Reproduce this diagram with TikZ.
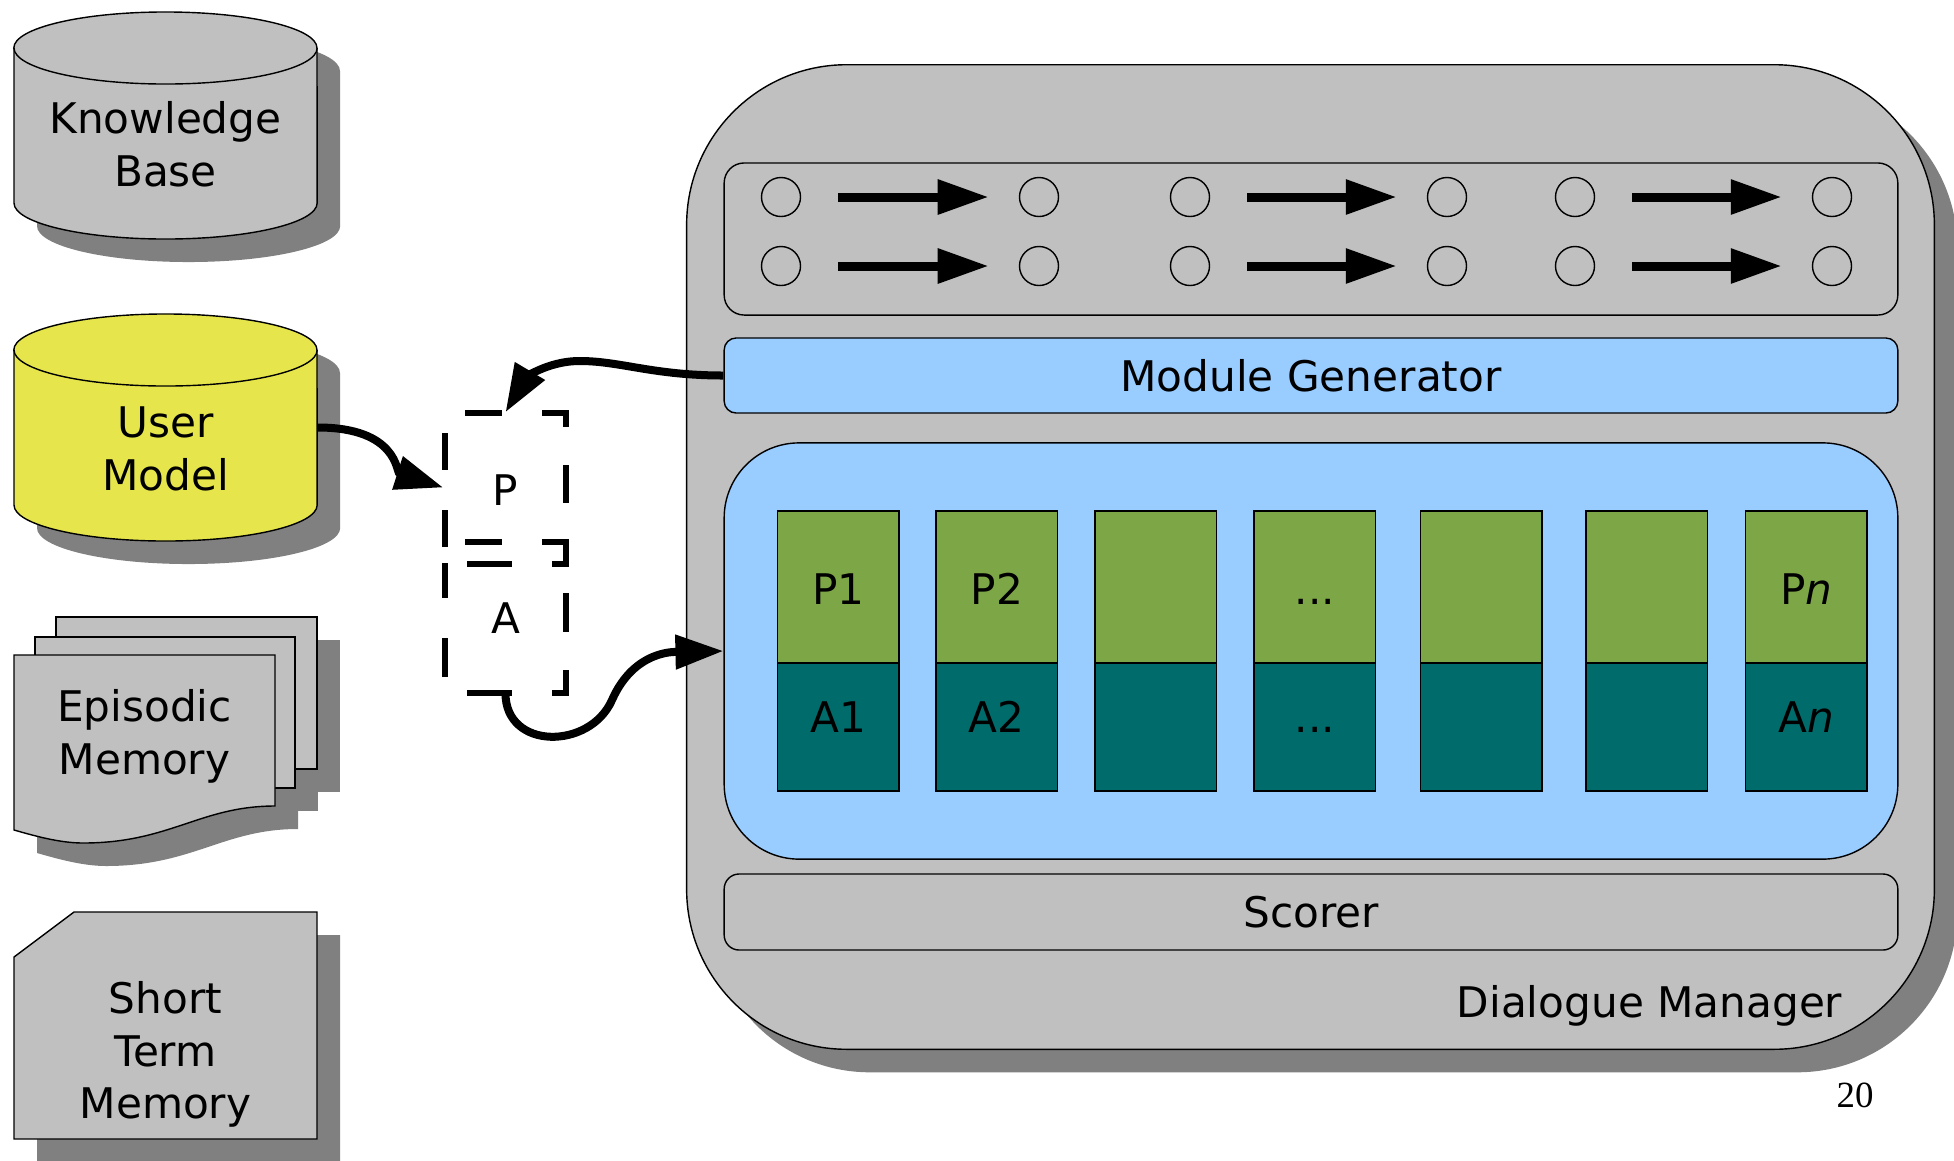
\documentclass[tikz,border=0pt]{standalone}
\usepackage{fontspec}
\setmainfont{DejaVu Sans}
\newfontfamily\serifnum{Liberation Serif}
\usetikzlibrary{arrows.meta,calc}
\definecolor{dmgray}{HTML}{C0C0C0}
\definecolor{shadowgray}{HTML}{808080}
\definecolor{umyellow}{HTML}{E6E64C}
\definecolor{paleblue}{HTML}{99CCFF}
\definecolor{pgreen}{HTML}{7DA647}
\definecolor{ateal}{HTML}{006B6B}
\begin{document}
\begin{tikzpicture}[x=0.01cm, y=-0.01cm,
  every node/.style={font=\fontsize{12}{15}\selectfont},
  thinline/.style={draw=black, line width=0.4pt},
  panel/.style={thinline, inner sep=0pt, minimum width=11.73cm},
  circ/.style={circle, draw=black, line width=0.4pt, minimum size=0.39cm, inner sep=0pt},
  flowarrow/.style={line width=0.09cm, -{Triangle[length=0.51cm,width=0.33cm]}, shorten <=0.37cm, shorten >=0.30cm},
  conn/.style={line width=0.08cm, -{Triangle[length=0.48cm,width=0.33cm]}},
  dashbox/.style={minimum width=1.21cm, minimum height=1.29cm, inner sep=0pt},
  dashseg/.style={line width=0.06cm},
  colbox/.style={thinline, minimum width=1.215cm, inner sep=0pt},
  hidden/.style={inner sep=0pt},
  lbl/.style={align=center, inner sep=0pt}
]
\path[use as bounding box] (0,0) rectangle (1954,1160);
\clip (0,0) rectangle (1954,1160);

% ---------- Knowledge Base cylinder ----------
\fill[shadowgray] (37,71) -- (37,226) arc[start angle=180,end angle=360,x radius=1.515cm,y radius=0.36cm] -- (340,71) arc[start angle=0,end angle=180,x radius=1.515cm,y radius=0.36cm] -- cycle;
\filldraw[thinline, fill=dmgray] (14,48) -- (14,203) arc[start angle=180,end angle=360,x radius=1.515cm,y radius=0.36cm] -- (317,48) arc[start angle=0,end angle=180,x radius=1.515cm,y radius=0.36cm] -- cycle;
\draw[thinline] (14,48) arc[start angle=180,end angle=360,x radius=1.515cm,y radius=0.36cm];
\node[hidden, minimum width=3.03cm, minimum height=2.27cm] (kb) at (165.5,125.5) {};
\node[lbl] (kbtext) at (165.5,144) {Knowledge\\Base};

% ---------- User Model cylinder ----------
\fill[shadowgray] (37,373) -- (37,528) arc[start angle=180,end angle=360,x radius=1.515cm,y radius=0.36cm] -- (340,373) arc[start angle=0,end angle=180,x radius=1.515cm,y radius=0.36cm] -- cycle;
\filldraw[thinline, fill=umyellow] (14,350) -- (14,505) arc[start angle=180,end angle=360,x radius=1.515cm,y radius=0.36cm] -- (317,350) arc[start angle=0,end angle=180,x radius=1.515cm,y radius=0.36cm] -- cycle;
\draw[thinline] (14,350) arc[start angle=180,end angle=360,x radius=1.515cm,y radius=0.36cm];
\node[hidden, minimum width=3.03cm, minimum height=2.27cm] (um) at (165.5,427.5) {};
\node[lbl] (umtext) at (165.5,449) {User\\Model};

% ---------- Episodic Memory (multi document) ----------
\fill[shadowgray] (79,640) rectangle (340,792);
\fill[shadowgray] (58,660) rectangle (318,811);
\fill[shadowgray] (37,678) -- (298,678) -- (298,829) .. controls (223,829) and (193,866) .. (106,866) .. controls (83,866) and (58,859) .. (37,853) -- cycle;
\filldraw[thinline, fill=dmgray] (56,617) rectangle (317,769);
\filldraw[thinline, fill=dmgray] (35,637) rectangle (295,788);
\filldraw[thinline, fill=dmgray] (14,655) -- (275,655) -- (275,806) .. controls (200,806) and (170,843) .. (83,843) .. controls (60,843) and (35,836) .. (14,830) -- cycle;
\node[hidden, minimum width=2.61cm, minimum height=1.88cm] (em) at (144.5,749) {};
\node[lbl] (emtext) at (144.5,736.5) {Episodic\\Memory};

% ---------- Short Term Memory (card) ----------
\fill[shadowgray] (97,935) -- (340,935) -- (340,1162) -- (37,1162) -- (37,980) -- cycle;
\filldraw[thinline, fill=dmgray] (74,912) -- (317,912) -- (317,1139) -- (14,1139) -- (14,957) -- cycle;
\node[hidden, minimum width=3.03cm, minimum height=2.27cm] (stm) at (165.5,1025.5) {};
\node[lbl] (stmtext) at (165.5,1054.5) {Short\\Term\\Memory};

% ---------- Dialogue Manager ----------
\node[fill=shadowgray, rounded corners=1.6cm, minimum width=12.47cm, minimum height=9.84cm, inner sep=0pt] (dmshadow) at (1333.5,580) {};
\node[thinline, fill=dmgray, rounded corners=1.6cm, minimum width=12.47cm, minimum height=9.84cm, inner sep=0pt] (dm) at (1310.5,557) {};

\node[panel, fill=dmgray, rounded corners=0.2cm, minimum height=1.52cm] (tp) at (1311,239) {};
\node[panel, fill=paleblue, rounded corners=0.12cm, minimum height=0.75cm] (mg) at (1311,375.5) {Module Generator};
\node[panel, fill=paleblue, rounded corners=0.75cm, minimum height=4.16cm] (bp) at (1311,651) {};
\node[panel, fill=dmgray, rounded corners=0.15cm, minimum height=0.76cm] (sc) at (1311,912) {Scorer};
\node[anchor=base east, inner sep=0pt] (dmlabel) at (1843,1017) {Dialogue Manager};

% circles and arrows
\foreach \r/\y in {1/197, 2/266} {
  \foreach \c/\x in {1/781, 2/1039, 3/1190, 4/1447, 5/1575, 6/1832} {
    \node[circ] (c\r\c) at (\x,\y) {};
  }
  \draw[flowarrow] (c\r1) -- (c\r2);
  \draw[flowarrow] (c\r3) -- (c\r4);
  \draw[flowarrow] (c\r5) -- (c\r6);
}

% P / A columns
\foreach \i/\x in {1/838.25, 2/996.75, 3/1155.75, 4/1314.75, 5/1481.25, 6/1646.75, 7/1806.25} {
  \node[colbox, fill=pgreen, minimum height=1.52cm] (g\i) at (\x,587) {};
  \node[colbox, fill=ateal, minimum height=1.28cm] (t\i) at (\x,727) {};
}
\node[anchor=base, inner sep=0pt] (lp1) at (838.25,604) {P1};
\node[anchor=base, inner sep=0pt] (lp2) at (996.75,604) {P2};
\node[anchor=base, inner sep=0pt] (lp4) at (1314.75,604) {...};
\node[anchor=base, inner sep=0pt] (lp7) at (1806.25,604) {P\textit{n}};
\node[anchor=base, inner sep=0pt] (la1) at (838.25,732) {A1};
\node[anchor=base, inner sep=0pt] (la2) at (996.75,732) {A2};
\node[anchor=base, inner sep=0pt] (la4) at (1314.75,732) {...};
\node[anchor=base, inner sep=0pt] (la7) at (1806.25,732) {A\textit{n}};

% ---------- P / A dashed boxes ----------
\node[dashbox] (pbox) at (505.5,477.5) {};
\node[dashbox] (abox) at (505.5,628) {};
% dashes of the two stacked boxes
\draw[dashseg] (465,413) -- (502,413);
\draw[dashseg] (542,413) -- (566,413) -- (566,427);
\draw[dashseg] (566,465) -- (566,503);
\draw[dashseg] (542,542) -- (566,542) -- (566,563.5) -- (552,563.5);
\draw[dashseg] (465,542) -- (502,542);
\draw[dashseg] (467,563.5) -- (512,563.5);
\draw[dashseg] (445,433) -- (445,470);
\draw[dashseg] (445,510) -- (445,547);
\draw[dashseg] (445,563) -- (445,598);
\draw[dashseg] (445,638) -- (445,677);
\draw[dashseg] (566,593) -- (566,632);
\draw[dashseg] (566,670) -- (566,693) -- (552,693);
\draw[dashseg] (467,693) -- (512,693);
\node[anchor=base, inner sep=0pt] (ptext) at (505,505) {P};
\node[anchor=base, inner sep=0pt] (atext) at (506,633) {A};

% ---------- connectors ----------
\draw[conn] (um.east) .. controls +(80,0) and +(-47,-15) .. ($(pbox.west)+(-1,10)$);
\draw[conn] (mg.west) .. controls +(-70,0) and +(40,0) .. (580,361) .. controls +(-35,0) and +(19,-32) .. (pbox.north);
\draw[conn] (abox.south) .. controls +(0,57) and +(-22,50) .. (612,700) .. controls +(23,-52) and +(-45,1) .. (bp.west);

% page number
\node[font=\serifnum\fontsize{10.5}{12}\selectfont, inner sep=0pt] (pnum) at (1855,1095) {20};
\end{tikzpicture}
\end{document}
